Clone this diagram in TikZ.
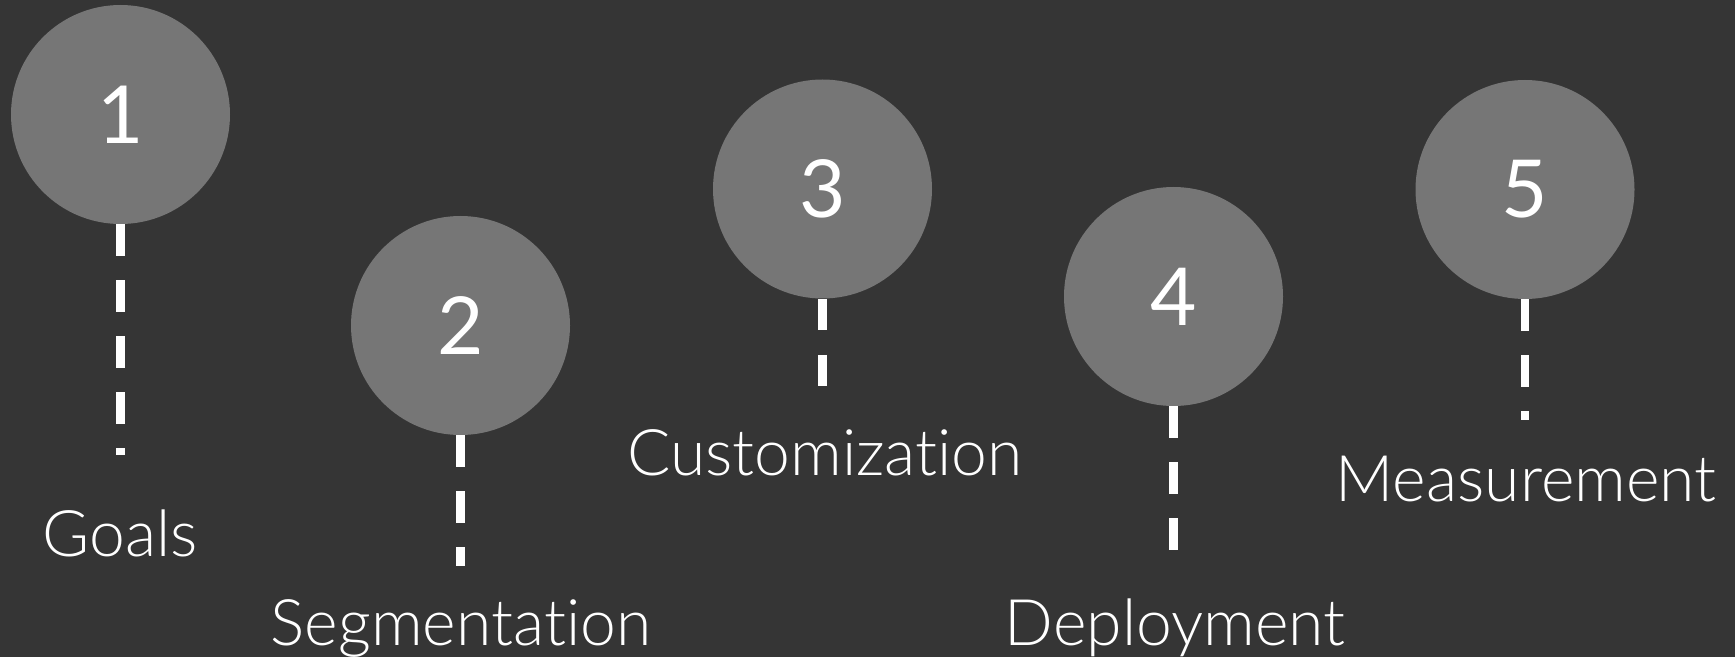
\documentclass[tikz,border=0pt]{standalone}
\usepackage{fontspec}
\setmainfont{Lato Light}[Ligatures=NoCommon]
\newfontfamily\digitfont{Lato}
\usepackage{tikz}
\usetikzlibrary{calc}

\definecolor{bgcol}{HTML}{353535}
\definecolor{ballcol}{HTML}{767676}

\tikzset{
    ball/.style={circle, fill=ballcol, inner sep=0pt, minimum size=109.5pt,
        text=white, font=\digitfont\fontsize{40}{40}\selectfont},
    stem/.style={white, line width=4.2pt, dash pattern=on 15.75pt off 12.25pt},
    lbl/.style={anchor=base, inner sep=0pt, text=white, font=\fontsize{32.1}{32.1}\selectfont}
}

\begin{document}
\begin{tikzpicture}[x=0.5pt, y=-0.5pt]
    %% background
    \fill[bgcol] (0,0) rectangle (1735,657);
    \useasboundingbox (0,0) rectangle (1735,657);

    %% circles
    \node[ball] (c1) at (120.5,114.5) {1};
    \node[ball] (c2) at (460.5,325.5) {2};
    \node[ball] (c3) at (822.5,189) {3};
    \node[ball] (c4) at (1173.5,296.5) {4};
    \node[ball] (c5) at (1525,189.5) {5};

    %% ends of the dashed stems
    \coordinate (e1) at (120.5,455);
    \coordinate (e2) at (460.5,566);
    \coordinate (e3) at (822.5,389);
    \coordinate (e4) at (1173.5,552);
    \coordinate (e5) at (1525,420);

    %% dashed stems
    \draw[stem] (c1.south) -- (e1);
    \draw[stem] (c2.south) -- (e2);
    \draw[stem] (c3.south) -- (e3);
    \draw[stem] (c4.south) -- (e4);
    \draw[stem] (c5.south) -- (e5);

    %% labels
    \node[lbl] (l1) at (120.5,556) {Goals};
    \node[lbl] (l2) at (461,645) {Segmentation};
    \node[lbl] (l3) at (825,475.5) {Customization};
    \node[lbl] (l4) at (1175,645) {Deployment};
    \node[lbl] (l5) at (1526,501.5) {Measurement};
\end{tikzpicture}
\end{document}
